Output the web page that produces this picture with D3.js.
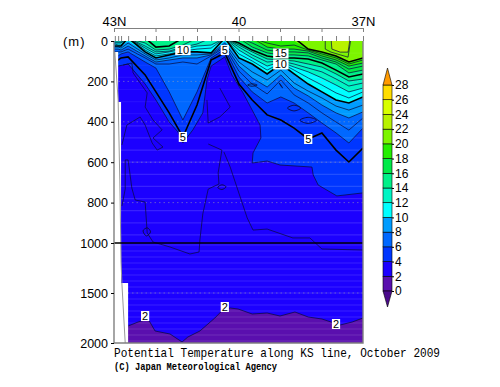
<!DOCTYPE html>
<html>
<head>
<meta charset="utf-8">
<script src="https://cdn.jsdelivr.net/npm/d3@7"></script>
<style>
  html, body { margin: 0; padding: 0; background: #fff; }
  svg { display: block; }
  text { fill: #000; }
</style>
</head>
<body>
<div id="chart"></div>
<script>
// station latitudes along the KS line (S = south end at 37N)
const stationLat = [42.98, 42.90, 42.83, 42.66, 42.25, 41.99, 41.67, 41.34, 41.00, 40.66, 40.33,
  39.99, 39.67, 39.31, 38.98, 38.66, 38.32, 37.99, 37.65, 37.34, 37.00];

// depth (m) of each isotherm at the stations, 0 = not present / at the surface
const iso5 = [94, 94, 84, 79, 168, 252, 356, 475, 317, 94, 59, 213, 292, 366, 391, 431, 485, 455, 540, 599, 530];
const iso6 = [74, 74, 64, 54, 104, 134, 252, 391, 252, 84, 40, 178, 252, 307, 277, 307, 356, 406, 455, 505, 431];
const iso7 = [54, 54, 54, 40, 84, 114, 114, 104, 114, 74, 30, 149, 213, 262, 193, 267, 307, 356, 401, 441, 381];
const iso8 = [40, 40, 45, 25, 74, 104, 94, 84, 84, 69, 20, 124, 183, 228, 168, 233, 272, 317, 356, 381, 351];
const iso9 = [30, 30, 35, 10, 64, 94, 84, 69, 69, 64, 10, 104, 153, 193, 144, 208, 248, 282, 322, 342, 317];
const iso10 = [25, 25, 25, 0, 54, 84, 69, 54, 54, 59, 0, 84, 114, 163, 114, 163, 213, 252, 292, 307, 277];
const iso11 = [15, 20, 20, 0, 45, 74, 64, 50, 40, 35, 0, 64, 99, 144, 109, 144, 183, 218, 257, 282, 252];
const iso12 = [10, 10, 10, 0, 35, 64, 54, 40, 25, 20, 0, 45, 84, 124, 104, 129, 153, 183, 218, 252, 233];
const iso13 = [5, 5, 5, 0, 25, 54, 50, 30, 15, 0, 0, 30, 69, 104, 99, 114, 134, 153, 188, 223, 208];
const iso14 = [0, 0, 0, 0, 10, 45, 40, 20, 0, 0, 0, 20, 54, 89, 94, 99, 114, 129, 163, 198, 188];
const iso15 = [0, 0, 0, 0, 0, 30, 25, 0, 0, 0, 0, 10, 45, 74, 84, 84, 89, 109, 144, 178, 163];
const iso16 = [0, 0, 0, 0, 0, 0, 0, 0, 0, 0, 0, 0, 30, 59, 69, 69, 74, 94, 114, 158, 144];
const iso17 = [0, 0, 0, 0, 0, 0, 0, 0, 0, 0, 0, 0, 10, 45, 54, 54, 59, 84, 104, 139, 124];
const iso18 = [0, 0, 0, 0, 0, 0, 0, 0, 0, 0, 0, 0, 0, 30, 40, 40, 50, 74, 94, 124, 109];
const iso19 = [0, 0, 0, 0, 0, 0, 0, 0, 0, 0, 0, 0, 0, 10, 25, 20, 45, 64, 84, 114, 94];
const iso20 = [0, 0, 0, 0, 0, 0, 0, 0, 0, 0, 0, 0, 0, 0, 0, 0, 40, 54, 74, 104, 84];

// isotherms that do not follow the stations: [lat, depth]
const iso2 = [[43, 1830], [42.66, 1830], [42.42, 1790], [42.25, 1770], [42.15, 1780], [42.01, 1880], [41.65, 1910],
  [41.36, 1990], [41.22, 1940], [40.93, 1880], [40.57, 1750], [40.38, 1670], [40.20, 1650], [40.01, 1660],
  [39.67, 1710], [39.31, 1700], [39.00, 1730], [38.64, 1690], [38.32, 1740], [37.99, 1760], [37.55, 1820],
  [37.26, 1790], [37.00, 1750]];
const iso4 = [[43, 124], [42.90, 124], [42.66, 114], [42.25, 213], [41.99, 292], [41.67, 401], [41.46, 450], [41.34, 505],
  [41.10, 440], [40.86, 356], [40.76, 193], [40.66, 124], [40.33, 79], [40.16, 168], [39.89, 257], [39.48, 416],
  [39.46, 480], [39.65, 554], [39.67, 604], [39.31, 594], [39.00, 614], [38.23, 624], [38.20, 663], [38.08, 713],
  [37.63, 767], [37.00, 752]];
const iso21 = [[37.91, 0], [37.91, 40], [37.77, 55], [37.36, 80], [37.29, 0]];
const iso22 = [[37.77, 0], [37.75, 40], [37.55, 55], [37.36, 55], [37.31, 0]];

// thin 3 degree lines and small closed eddies
const iso3Main = [[42.81, 817], [42.78, 787], [42.73, 733], [42.73, 589], [42.66, 589], [42.57, 728], [42.49, 787],
  [42.25, 797], [42.20, 950], [42.06, 995], [41.65, 1040], [41.17, 1110], [40.95, 1090], [40.93, 985],
  [40.86, 856], [40.73, 733], [40.47, 708], [40.49, 653], [40.40, 540], [40.73, 510]];
const iso3South = [[40.35, 550], [40.20, 624], [39.96, 772], [39.79, 876], [39.65, 936], [39.31, 931], [38.69, 975],
  [38.28, 975], [37.99, 1060], [37.00, 1070]];
const iso3North = [[42.81, 515], [42.69, 416], [42.37, 376], [42.25, 416], [42.08, 505], [41.96, 540], [41.82, 525], [42.06, 480], [41.84, 440]];
const iso3Upper = [[42.78, 119], [42.57, 109], [42.54, 158], [42.20, 257], [42.25, 327], [42.06, 391], [41.84, 440]];
const iso3Tongue = [[40.76, 292], [40.73, 406], [40.45, 376], [40.20, 327], [40.45, 233]];
const eddies = [
  [[42.30, 940], [42.20, 925], [42.12, 945], [42.22, 965]],
  [[40.50, 725], [40.40, 712], [40.30, 722], [40.40, 735]],
  [[39.78, 218], [39.67, 212], [39.55, 218], [39.67, 224]],
  [[39.02, 208], [38.98, 218], [38.94, 232], [38.98, 222]],
  [[38.82, 332], [38.66, 318], [38.50, 332], [38.66, 346]],
  [[38.52, 392], [38.32, 378], [38.12, 392], [38.32, 408]]
];

// bottom topography on the left
const land = [[43, 54], [42.90, 54], [42.90, 302], [42.83, 302], [42.83, 1400], [42.66, 1400], [42.66, 2000], [43, 2000]];
const seaFloor = [[42.98, 54], [42.90, 292], [42.86, 688], [42.83, 1190], [42.81, 1400], [42.73, 2000]];

// contour labels
const contourLabels = [
  { t: '10', lat: 41.34, d: 45 }, { t: '5', lat: 40.33, d: 45 },
  { t: '15', lat: 38.98, d: 62 }, { t: '10', lat: 38.98, d: 116 },
  { t: '5', lat: 41.34, d: 475 }, { t: '5', lat: 38.32, d: 485 },
  { t: '2', lat: 42.25, d: 1730 }, { t: '2', lat: 40.33, d: 1640 }, { t: '2', lat: 37.65, d: 1810 }
];

const legendLevels = [0, 2, 4, 6, 8, 10, 12, 14, 16, 18, 20, 22, 24, 26, 28];
const bandColors = ['#5a0fae', '#1c00ff', '#0036ff', '#0068ff', '#009cff', '#00ffff', '#00f5c4', '#00f088',
  '#00ea48', '#24ee00', '#7cf500', '#b8f200', '#d8ff00', '#ffdd00'];
const belowColor = '#4b0a8c';
const aboveColor = '#ff9a00';
const depthTicks = [0, 200, 400, 600, 800, 1000, 1500, 2000];
const dottedDepths = [200, 400, 600, 800, 1500];
const degreeTicks = [43, 42, 41, 40, 39, 38, 37];
const latLabels = { 43: '43N', 40: '40', 37: '37N' };

const width = 500, height = 387;
const x = d3.scaleLinear().domain([43, 37]).range([114, 363]);
const y = d3.scaleLinear().domain([0, 1000, 2000]).range([41, 243, 343]);
const font = 'Liberation Sans, Arial, sans-serif';

const svg = d3.select('#chart').append('svg').attr('width', width).attr('height', height);
svg.append('defs').append('clipPath').attr('id', 'plot-clip').append('rect')
  .attr('x', x(43)).attr('y', y(0)).attr('width', x(37) - x(43)).attr('height', y(2000) - y(0));

const atStations = depths => stationLat.map((lat, i) => [lat, depths[i]]);
const toLine = d3.line().x(d => x(d[0])).y(d => y(d[1]));
// the surface point of a stroked line is pushed above the clip so no line runs along the top
const strokeLine = d3.line().x(d => x(d[0])).y(d => d[1] === 0 ? y(0) - 3 : y(d[1]));
const closedCurve = d3.line().x(d => x(d[0])).y(d => y(d[1])).curve(d3.curveCardinalClosed);
const warmSide = pts => toLine([[pts[0][0], 0], ...pts, [pts[pts.length - 1][0], 0]]) + 'Z';

const plot = svg.append('g').attr('clip-path', 'url(#plot-clip)');

// colour bands, coldest first
plot.append('rect').attr('x', x(43)).attr('y', y(0)).attr('width', x(37) - x(43)).attr('height', y(2000) - y(0))
  .attr('fill', bandColors[0]);
const fills = [
  [iso2, 1], [iso4, 2], [atStations(iso6), 3], [atStations(iso8), 4], [atStations(iso10), 5], [atStations(iso12), 6],
  [atStations(iso14), 7], [atStations(iso16), 8], [atStations(iso18), 9], [atStations(iso20), 10], [iso22, 11]
];
plot.selectAll('path.band').data(fills).join('path').attr('class', 'band')
  .attr('d', d => warmSide(d[0])).attr('fill', d => bandColors[d[1]]);

// lighter seams between the standard depth layers
plot.selectAll('line.seam').data(d3.range(60, 2000, 60)).join('line').attr('class', 'seam')
  .attr('x1', x(43)).attr('x2', x(37)).attr('y1', d => y(d)).attr('y2', d => y(d))
  .attr('stroke', '#fff').attr('stroke-opacity', d => d < 400 ? 0.05 : 0.13).attr('stroke-width', 1.2);

plot.selectAll('line.dotted').data(dottedDepths).join('line').attr('class', 'dotted')
  .attr('x1', x(43)).attr('x2', x(37)).attr('y1', d => y(d)).attr('y2', d => y(d))
  .attr('stroke', '#aaa').attr('stroke-opacity', 0.7).attr('stroke-width', 0.7).attr('stroke-dasharray', '1.5 3');

// contours, thin every degree, thick every five
const thinLines = [iso4, iso3Main, iso3South, iso3North, iso3Upper, iso3Tongue, iso21, iso22,
  iso2.slice(1),
  ...[iso6, iso7, iso8, iso9, iso11, iso12, iso13, iso14, iso16, iso17, iso18, iso19].map(atStations)];
plot.selectAll('path.thin').data(thinLines).join('path').attr('class', 'thin')
  .attr('d', strokeLine).attr('fill', 'none').attr('stroke', '#0a0a3c').attr('stroke-width', 0.8).attr('stroke-opacity', 0.9);
plot.selectAll('path.eddy').data(eddies).join('path').attr('class', 'eddy')
  .attr('d', closedCurve).attr('fill', 'none').attr('stroke', '#0a0a3c').attr('stroke-width', 0.9);
plot.selectAll('path.thick').data([iso5, iso10, iso15, iso20].map(atStations)).join('path').attr('class', 'thick')
  .attr('d', strokeLine).attr('fill', 'none').attr('stroke', '#000').attr('stroke-width', 1.6);

// land
plot.append('path').attr('d', toLine(land) + 'Z').attr('fill', '#fff');
plot.append('path').attr('d', toLine(seaFloor)).attr('fill', 'none').attr('stroke', '#999').attr('stroke-width', 1);

// 1000 m reference line
svg.append('line').attr('x1', x(43)).attr('x2', x(37)).attr('y1', y(1000)).attr('y2', y(1000))
  .attr('stroke', '#000').attr('stroke-width', 1.5);

// frame
svg.append('path').attr('d', `M${x(43)},${y(0)}V${y(2000)}H${x(37)}V${y(0)}`)
  .attr('fill', 'none').attr('stroke', '#808080').attr('stroke-width', 1.4);

// contour labels
const labels = svg.selectAll('g.clabel').data(contourLabels).join('g').attr('class', 'clabel')
  .attr('transform', d => `translate(${x(d.lat)},${y(d.d)})`);
labels.append('rect').attr('x', d => -d.t.length * 3.6 - 0.5).attr('y', -5).attr('width', d => d.t.length * 7.2 + 1).attr('height', 10).attr('fill', '#fff');
labels.append('text').attr('text-anchor', 'middle').attr('dy', '0.36em').attr('font-family', font).attr('font-size', 11).text(d => d.t);

// depth axis
const yAxis = svg.append('g').attr('transform', `translate(${x(43)},0)`)
  .call(d3.axisLeft(y).tickValues(depthTicks).tickSize(3).tickPadding(3).tickFormat(d3.format('d')));
yAxis.select('.domain').remove();
yAxis.selectAll('text').attr('font-family', font).attr('font-size', 12.5);
svg.append('text').attr('x', 63).attr('y', 46).attr('font-family', font).attr('font-size', 13).attr('letter-spacing', 1).text('(m)');

// latitude axis on top with whole degree ticks hanging from it
const topAxis = svg.append('g').attr('transform', 'translate(0,28)')
  .call(d3.axisTop(x).tickValues(degreeTicks).tickSizeInner(-4).tickSizeOuter(0).tickPadding(2)
    .tickFormat(d => latLabels[d] || ''));
topAxis.select('.domain').attr('stroke', '#808080');
topAxis.selectAll('line').attr('stroke', '#808080');
topAxis.selectAll('text').attr('font-family', font).attr('font-size', 13);

// station ticks
const stationAxis = svg.append('g').attr('transform', `translate(0,${y(0)})`)
  .call(d3.axisTop(x).tickValues(stationLat).tickSize(5).tickFormat(''));
stationAxis.select('.domain').remove();
stationAxis.selectAll('line').attr('stroke', '#808080');

// colour bar
const barY = d3.scaleLinear().domain([0, 28]).range([291, 85]);
const barX0 = 383, barX1 = 392;
const bar = svg.append('g');
bar.selectAll('rect').data(d3.pairs(legendLevels)).join('rect')
  .attr('x', barX0).attr('width', barX1 - barX0).attr('y', d => barY(d[1])).attr('height', d => barY(d[0]) - barY(d[1]))
  .attr('fill', (d, i) => bandColors[i]).attr('stroke', '#000').attr('stroke-width', 0.6);
bar.append('path').attr('d', `M${barX0},${barY(28)}L${(barX0 + barX1) / 2},68L${barX1},${barY(28)}Z`)
  .attr('fill', aboveColor).attr('stroke', '#000').attr('stroke-width', 0.6);
bar.append('path').attr('d', `M${barX0},${barY(0)}L${(barX0 + barX1) / 2},307L${barX1},${barY(0)}Z`)
  .attr('fill', belowColor).attr('stroke', '#000').attr('stroke-width', 0.6);
const barAxis = svg.append('g').attr('transform', `translate(${barX1},0)`)
  .call(d3.axisRight(barY).tickValues(legendLevels).tickSize(2).tickPadding(1));
barAxis.select('.domain').remove();
barAxis.selectAll('text').attr('font-family', font).attr('font-size', 12);

// titles
svg.append('text').attr('x', 114).attr('y', 357).attr('font-family', 'Liberation Mono, monospace').attr('font-size', 13)
  .attr('textLength', 326).attr('lengthAdjust', 'spacingAndGlyphs').text('Potential Temperature along KS line, October 2009');
svg.append('text').attr('x', 114).attr('y', 370).attr('font-family', 'Liberation Mono, monospace').attr('font-size', 11).attr('font-weight', 'bold')
  .attr('textLength', 163).attr('lengthAdjust', 'spacingAndGlyphs').text('(C) Japan Meteorological Agency');
</script>
</body>
</html>
